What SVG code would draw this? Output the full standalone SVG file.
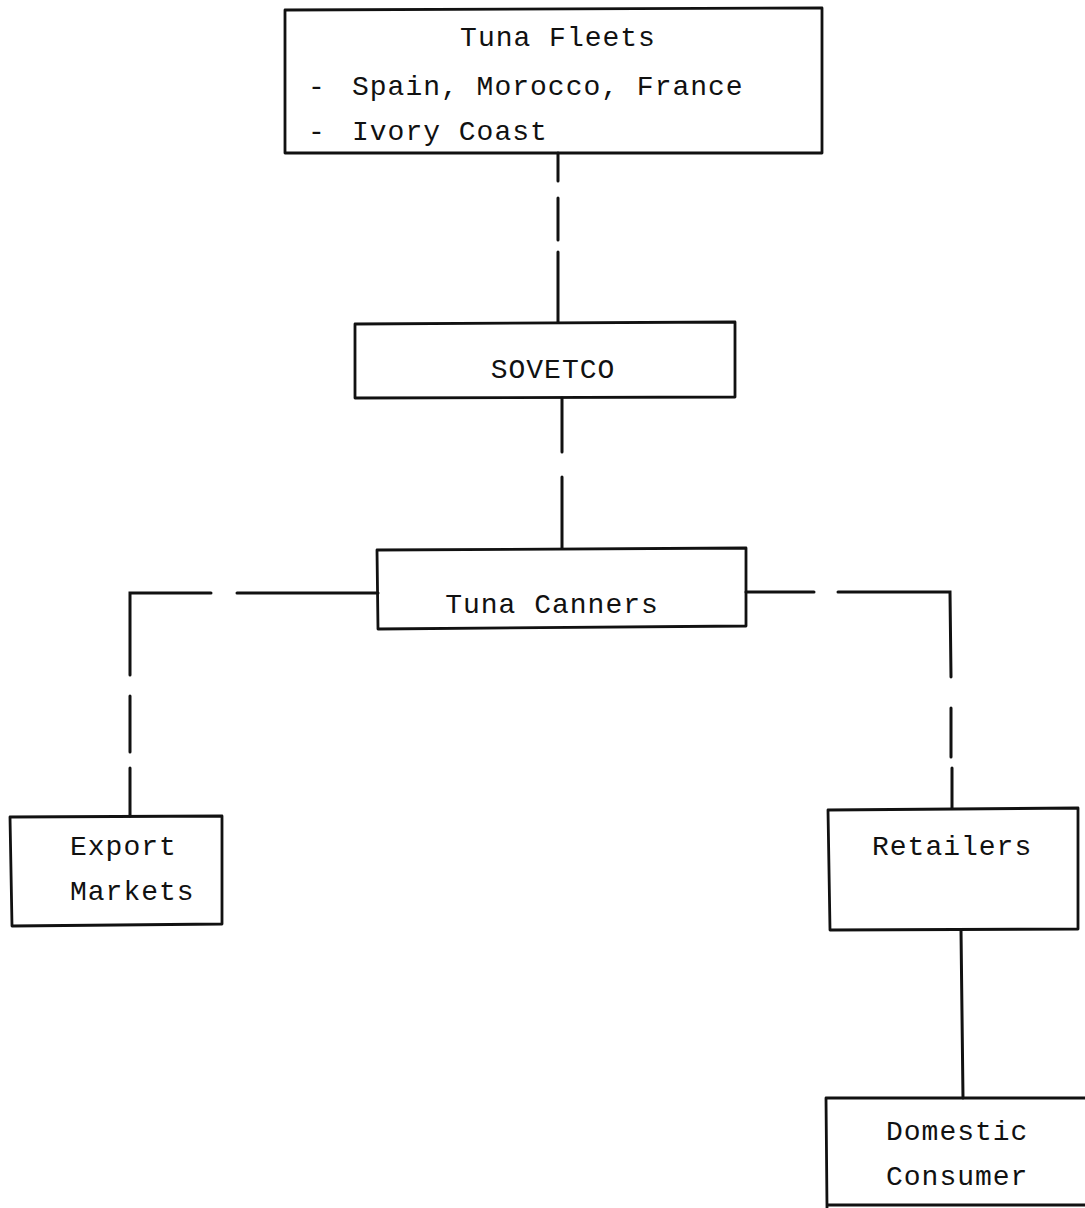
<svg xmlns="http://www.w3.org/2000/svg" width="1085" height="1208" viewBox="0 0 1085 1208">
<style>
.box{fill:none;stroke:#111;stroke-width:2.8;stroke-linejoin:round}
.ln{fill:none;stroke:#111;stroke-width:3;stroke-linecap:round}
text{font-family:"Liberation Mono","DejaVu Sans Mono",monospace;font-size:28px;fill:#111;letter-spacing:1px}
.c{text-anchor:middle}
</style>
<rect width="1085" height="1208" fill="#fff"/>
<g id="connectors">
<path class="ln" d="M558 153V181M558 198V240M558 252V322"/>
<path class="ln" d="M562 398V452M562 477V548"/>
<path class="ln" d="M378 593H237M211 593H130V675M130 696V752M130 768V816"/>
<path class="ln" d="M746 592H814M838 592H950L951 677M951 708V757M952 768V808"/>
<path class="ln" d="M961 930L963 1098"/>
</g>
<g id="tuna-fleets">
<path class="box" d="M285 10L822 8L822 153L285 153Z"/>
<text class="c" x="558" y="46">Tuna Fleets</text>
<text x="308" y="95">-</text>
<text x="352" y="95">Spain, Morocco, France</text>
<text x="308" y="140">-</text>
<text x="352" y="140">Ivory Coast</text>
</g>
<g id="sovetco">
<path class="box" d="M355 324L735 322L735 397L355 398Z"/>
<text class="c" x="553" y="378">SOVETCO</text>
</g>
<g id="tuna-canners">
<path class="box" d="M377 550L746 548L746 626L378 629Z"/>
<text class="c" x="552" y="613">Tuna Canners</text>
</g>
<g id="export-markets">
<path class="box" d="M10 817L222 816L222 924L12 926Z"/>
<text x="70" y="855">Export</text>
<text x="70" y="900">Markets</text>
</g>
<g id="retailers">
<path class="box" d="M828 810L1078 808L1078 929L830 930Z"/>
<text x="872" y="855">Retailers</text>
</g>
<g id="domestic-consumer">
<path class="box" d="M1090 1098L826 1098L827 1208M826 1205L1090 1205"/>
<text x="886" y="1140">Domestic</text>
<text x="886" y="1185">Consumer</text>
</g>
</svg>
